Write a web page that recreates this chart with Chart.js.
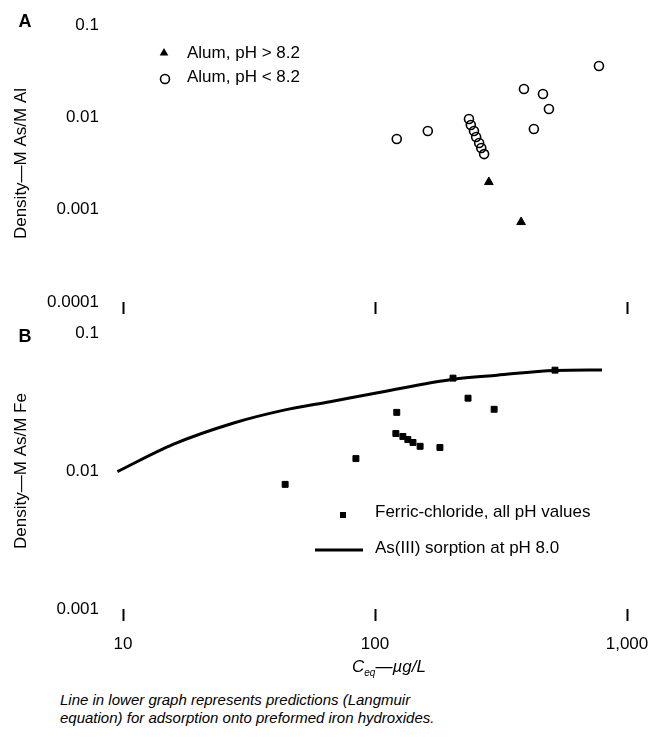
<!DOCTYPE html>
<html>
<head>
<meta charset="utf-8">
<script src="https://cdn.jsdelivr.net/npm/chart.js@4.4.1/dist/chart.umd.min.js"></script>
<style>
  body { margin: 0; background: #fff; }
  #wrap { position: relative; width: 650px; height: 741px; overflow: hidden; font-family: "Liberation Sans", Arial, sans-serif; color: #000; }
  canvas { position: absolute; left: 0; }
  #chartA { top: 0; }
  #chartB { top: 315px; }
  #xtitle { position: absolute; top: 657px; left: 352px; font-size: 17px; font-style: italic; white-space: nowrap; }
  #xtitle sub { font-size: 10px; }
  #caption { position: absolute; top: 691px; left: 60px; font-size: 15px; font-style: italic; line-height: 18px; white-space: nowrap; }
</style>
</head>
<body>
<div id="wrap">
  <canvas id="chartA" width="650" height="316"></canvas>
  <canvas id="chartB" width="650" height="345"></canvas>
  <div id="xtitle">C<sub>eq</sub>—µg/L</div>
  <div id="caption">Line in lower graph represents predictions (Langmuir<br>equation) for adsorption onto preformed iron hydroxides.</div>
</div>
<script>
// x軸 (Ceq, µg/L)
const xTicks = [10, 100, 1000];
const xLabels = ['10', '100', '1,000'];
// y軸
const yTicksA = [0.0001, 0.001, 0.01, 0.1];
const yLabelsA = ['0.0001', '0.001', '0.01', '0.1'];
const yTicksB = [0.001, 0.01, 0.1];
const yLabelsB = ['0.001', '0.01', '0.1'];

// A: alum
const alumHighC = [283, 380];
const alumHighQ = [0.00199, 0.000734];
const alumLowC = [122, 162, 236, 240, 247, 252, 259, 264, 271, 390, 464, 490, 427, 774];
const alumLowQ = [0.00582, 0.00711, 0.0096, 0.00826, 0.00711, 0.00612, 0.00527, 0.00466, 0.0040, 0.0203, 0.0179, 0.0123, 0.00747, 0.036];

// B: ferric chloride
const ferricC = [204, 518, 234, 297, 122, 121, 129, 135, 141.5, 151, 181, 84, 44];
const ferricQ = [0.0471, 0.0538, 0.0337, 0.0280, 0.0266, 0.0187, 0.0178, 0.0169, 0.0161, 0.0151, 0.0148, 0.0123, 0.0080];

// B: As(III) sorption line
const sorptionC = [9.5, 15.8, 27.3, 43.1, 66.3, 105, 204, 305, 518, 796];
const sorptionQ = [0.0099, 0.0156, 0.0222, 0.0275, 0.0318, 0.0372, 0.0463, 0.0495, 0.0535, 0.054];

const FONT = '"Liberation Sans", Arial, sans-serif';

function pts(xs, ys) {
    return xs.map((x, i) => ({x: x, y: ys[i]}));
}

// ラベルのはみ出し分の余白を消す
function noPadding(s) {
    s.paddingLeft = 0;
    s.paddingRight = 0;
    s.paddingTop = 0;
    s.paddingBottom = 0;
}

function xScale(showLabels, height) {
    return {
        type: 'logarithmic',
        min: 10,
        max: 1000,
        afterBuildTicks: s => { s.ticks = xTicks.map(v => ({value: v})); },
        afterFit: s => { s.height = height; noPadding(s); },
        ticks: {
            display: showLabels,
            autoSkip: false,
            maxRotation: 0,
            padding: 13,
            color: '#000',
            font: {family: FONT, size: 17},
            callback: (v, i) => xLabels[i]
        },
        grid: {drawOnChartArea: false, tickLength: 12, tickWidth: 2, tickColor: '#000'},
        border: {display: false}
    };
}

function yScale(ticks, labels, min, max, title) {
    return {
        type: 'logarithmic',
        min: min,
        max: max,
        afterBuildTicks: s => { s.ticks = ticks.map(v => ({value: v})); },
        afterFit: s => { s.width = 123; noPadding(s); },
        ticks: {
            autoSkip: false,
            padding: 24,
            color: '#000',
            font: {family: FONT, size: 17},
            callback: (v, i) => labels[i]
        },
        grid: {display: false, drawTicks: false},
        border: {display: false},
        title: {
            display: true,
            text: title,
            color: '#000',
            font: {family: FONT, size: 17},
            padding: {top: 11, bottom: 0}
        }
    };
}

// 凡例とパネル文字を描く
function legendPlugin(letter, letterY, items) {
    return {
        id: 'legend' + letter,
        afterDraw(chart) {
            const ctx = chart.ctx;
            ctx.save();
            ctx.fillStyle = '#000';
            ctx.strokeStyle = '#000';
            ctx.font = 'bold 18px ' + FONT;
            ctx.textBaseline = 'middle';
            ctx.textAlign = 'center';
            ctx.fillText(letter, 25, letterY);

            ctx.font = '17px ' + FONT;
            ctx.textAlign = 'left';
            items.forEach(it => {
                const x = it.mx, y = it.my;
                ctx.beginPath();
                if (it.type === 'triangle') {
                    ctx.moveTo(x, y - 5);
                    ctx.lineTo(x + 4.3, y + 2.5);
                    ctx.lineTo(x - 4.3, y + 2.5);
                    ctx.closePath();
                    ctx.fill();
                } else if (it.type === 'circle') {
                    ctx.lineWidth = 1.6;
                    ctx.arc(x, y, 4.5, 0, Math.PI * 2);
                    ctx.stroke();
                } else if (it.type === 'rect') {
                    ctx.fillRect(x - 3, y - 3, 6, 6);
                } else if (it.type === 'line') {
                    ctx.lineWidth = 3;
                    ctx.moveTo(x - 24, y);
                    ctx.lineTo(x + 24, y);
                    ctx.stroke();
                }
                ctx.fillText(it.text, it.tx, it.ty);
            });
            ctx.restore();
        }
    };
}

const common = {
    responsive: false,
    animation: false,
    events: [],
    plugins: {legend: {display: false}, tooltip: {enabled: false}}
};

new Chart(document.getElementById('chartA'), {
    type: 'scatter',
    data: {
        datasets: [{
            label: 'Alum, pH > 8.2',
            data: pts(alumHighC, alumHighQ),
            pointStyle: 'triangle',
            pointRadius: 5,
            backgroundColor: '#000',
            borderColor: '#000',
            borderWidth: 1
        }, {
            label: 'Alum, pH < 8.2',
            data: pts(alumLowC, alumLowQ),
            pointStyle: 'circle',
            pointRadius: 4.5,
            backgroundColor: 'rgba(0,0,0,0)',
            borderColor: '#000',
            borderWidth: 1.6
        }]
    },
    options: Object.assign({}, common, {
        layout: {padding: {top: 25, right: 23, left: 0, bottom: 0}},
        scales: {
            x: xScale(false, 14),
            y: yScale(yTicksA, yLabelsA, 0.0001, 0.1, 'Density—M As/M Al')
        }
    }),
    plugins: [legendPlugin('A', 22, [
        {type: 'triangle', mx: 164, my: 53, text: 'Alum, pH > 8.2', tx: 187, ty: 53},
        {type: 'circle', mx: 165, my: 79, text: 'Alum, pH < 8.2', tx: 187, ty: 77}
    ])]
});

new Chart(document.getElementById('chartB'), {
    type: 'scatter',
    data: {
        datasets: [{
            label: 'As(III) sorption at pH 8.0',
            data: pts(sorptionC, sorptionQ),
            showLine: true,
            pointRadius: 0,
            borderColor: '#000',
            borderWidth: 3,
            cubicInterpolationMode: 'monotone',
            clip: false
        }, {
            label: 'Ferric-chloride, all pH values',
            data: pts(ferricC, ferricQ),
            pointStyle: 'rect',
            pointRadius: 4.2,
            backgroundColor: '#000',
            borderColor: '#000',
            borderWidth: 1
        }]
    },
    options: Object.assign({}, common, {
        layout: {padding: {top: 18, right: 23, left: 0, bottom: 0}},
        scales: {
            x: xScale(true, 51),
            y: yScale(yTicksB, yLabelsB, 0.001, 0.1, 'Density—M As/M Fe')
        }
    }),
    plugins: [legendPlugin('B', 22, [
        {type: 'rect', mx: 343, my: 200, text: 'Ferric-chloride, all pH values', tx: 375, ty: 197},
        {type: 'line', mx: 339, my: 235, text: 'As(III) sorption at pH 8.0', tx: 375, ty: 233}
    ])]
});
</script>
</body>
</html>
